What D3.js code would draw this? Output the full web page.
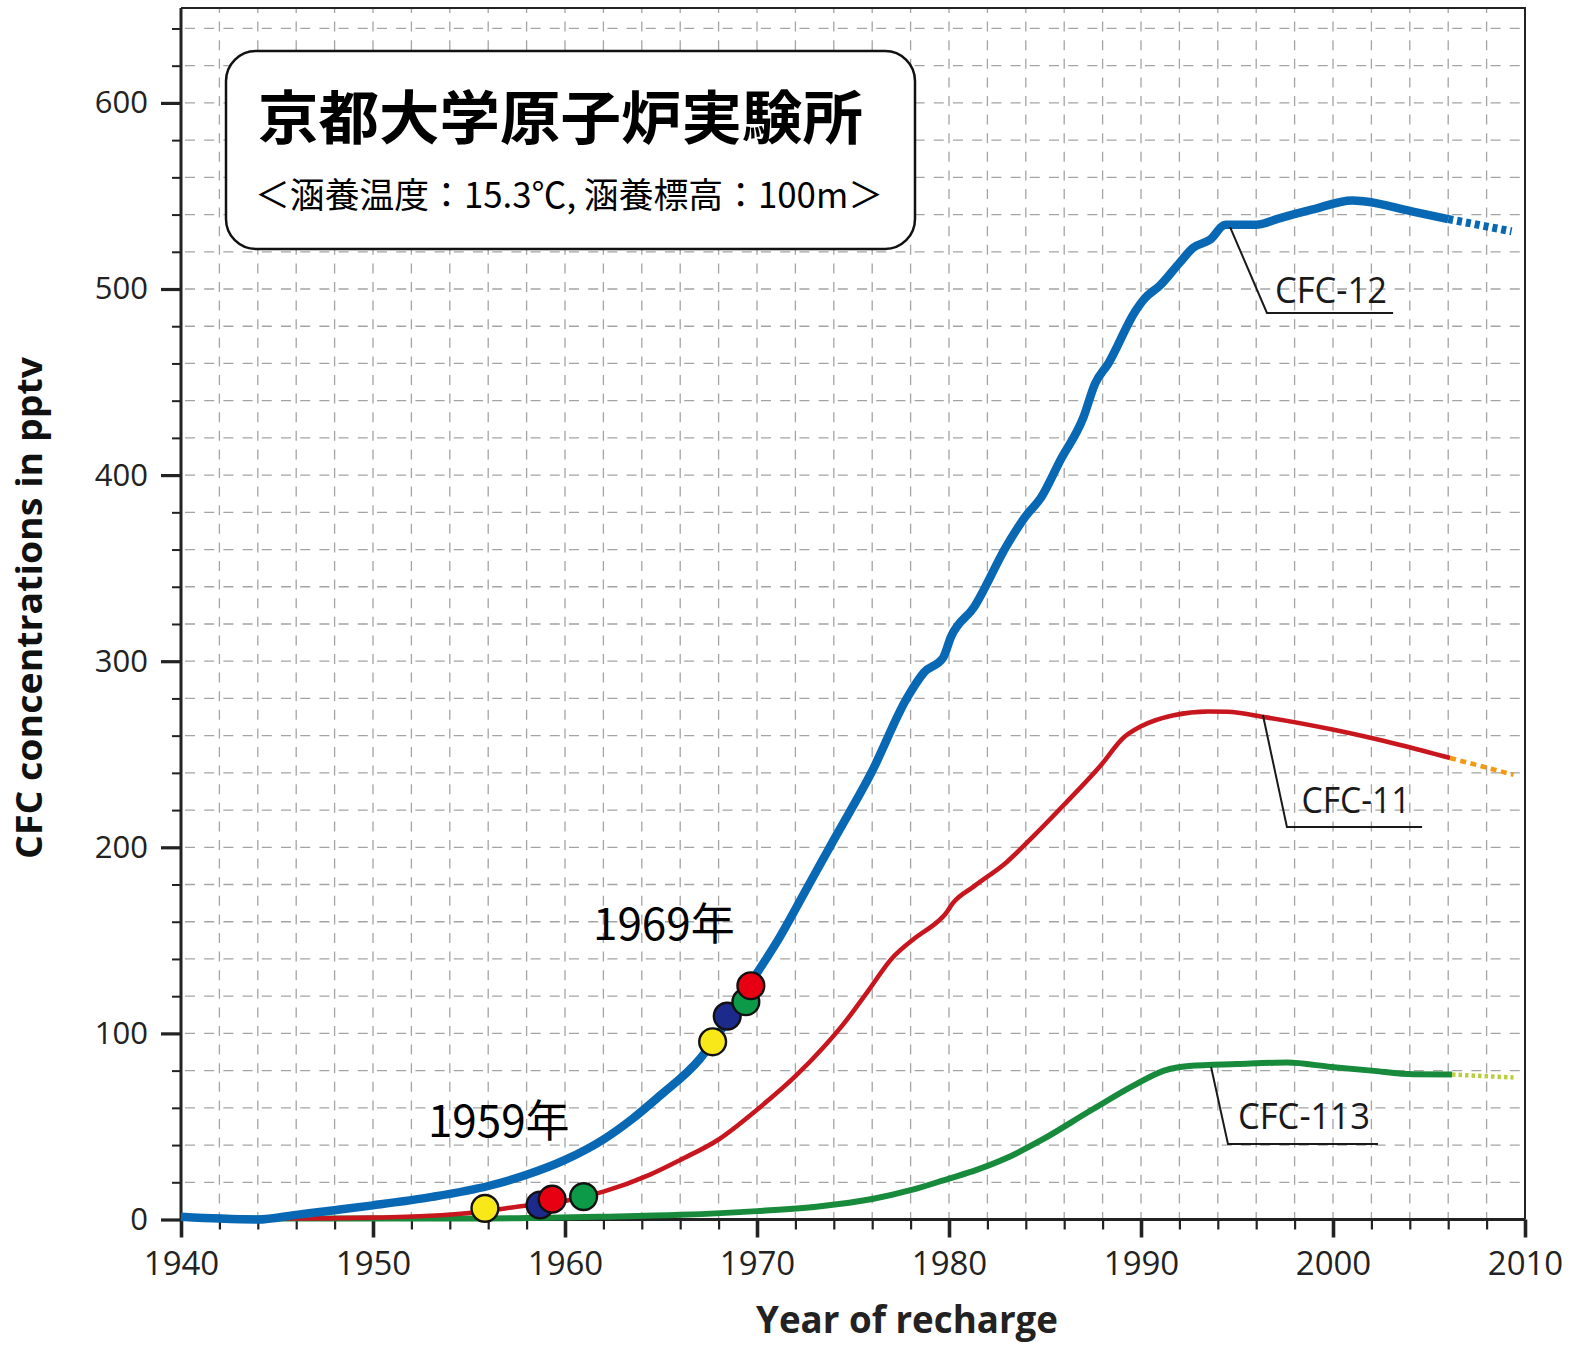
<!DOCTYPE html>
<html>
<head>
<meta charset="utf-8">
<script src="https://cdn.jsdelivr.net/npm/d3@7"></script>
<style>
  html, body { margin: 0; padding: 0; background: #fff; }
  svg { display: block; }
</style>
</head>
<body>
<svg id="chart" width="1576" height="1353"></svg>
<script>
// ---------- DATA ----------
const xTickYears = [1940, 1950, 1960, 1970, 1980, 1990, 2000, 2010];
const yTickValues = [0, 100, 200, 300, 400, 500, 600];

// CFC-12 (pptv)
const cfc12 = [
  [1940, 1.5], [1942, 0.5], [1944, 0], [1946, 2.5], [1948, 5], [1950, 7.6],
  [1953, 12], [1956, 18], [1958, 24], [1960, 32], [1962, 43], [1963.5, 54],
  [1965, 67], [1967, 86], [1968.4, 106], [1969.6, 126], [1971.2, 152],
  [1972.6, 178], [1974, 204], [1976, 241], [1977.8, 280], [1978.7, 294],
  [1979.7, 302], [1980.1, 313], [1981.3, 329], [1983, 362], [1984, 378],
  [1984.8, 388], [1985.8, 408], [1987, 431], [1987.6, 449], [1988.3, 460],
  [1989.7, 488], [1990.2, 495], [1991, 502], [1992, 514], [1992.7, 522],
  [1993.6, 526.5], [1994.4, 534.5], [1996, 534.5], [1997.2, 538], [1998.9, 542.6],
  [2001, 547.6], [2001.7, 547], [2004.1, 541.7], [2006, 537.6]
];
const cfc12Ext = [[2006, 537.6], [2009.3, 531]];

// CFC-11 (pptv)
const cfc11 = [
  [1940, 0.5], [1945, 0.5], [1950, 1], [1953, 2], [1955, 3.5], [1958, 7.5],
  [1960, 10], [1962, 15], [1964.4, 24], [1966, 32], [1968, 43], [1970, 59],
  [1972, 77], [1973.5, 93], [1974.5, 105], [1975.8, 123], [1977, 140],
  [1978.2, 151], [1979.4, 160], [1979.8, 164], [1980.2, 170], [1981.3, 179],
  [1983, 192], [1984.4, 206], [1986, 223], [1987.9, 244], [1989.1, 259],
  [1990, 265], [1991.7, 271], [1993.5, 273], [1994.5, 272.8], [1996.4, 270],
  [2000.1, 263], [2003.5, 255], [2006.1, 248]
];
const cfc11Ext = [[2006.1, 248], [2009.4, 239]];

// CFC-113 (pptv)
const cfc113 = [
  [1940, 1.5], [1945, 0.5], [1955, 0.5], [1962, 1.5], [1966, 2.5], [1970, 4.5],
  [1973.2, 7], [1976, 11], [1978.1, 16], [1980, 22], [1981.4, 26.5], [1983, 33],
  [1984.8, 42.6], [1987.4, 58.7], [1989.8, 73], [1991.2, 80], [1992.5, 82.5],
  [1995, 83.5], [1997.6, 84.3], [1999.9, 82], [2002, 80], [2004.2, 78], [2006.2, 77.9]
];
const cfc113Ext = [[2006.2, 77.9], [2009.4, 76.3]];

// Sample points (year, pptv, colour name)
const samples1959 = [
  [1955.83, 6.0, "yellow"], [1958.7, 7.8, "navy"], [1959.33, 10.9, "red"], [1960.97, 12.3, "green"]
];
const samples1969 = [
  [1967.69, 95.5, "yellow"], [1968.45, 109.3, "navy"], [1969.42, 117, "green"], [1969.68, 125.6, "red"]
];

// Series labels with leader lines (data units)
const seriesLabels = [
  { text: "CFC-12",  pts: [[1994.64, 533.3], [1996.56, 487.1], [2003.13, 487.1]], at: [1996.98, 492.5], len: 112 },
  { text: "CFC-11",  pts: [[1996.35, 271.1], [1997.6, 210.9], [2004.64, 210.9]], at: [1998.36, 218.6], len: 109 },
  { text: "CFC-113", pts: [[1993.65, 81.9], [1994.53, 40.6], [2002.34, 40.6]], at: [1995.05, 48.6], len: 132 }
];
const yearLabels = [
  { text: "1969年", at: [1961.46, 150.2] },
  { text: "1959年", at: [1952.86, 44.3] }
];

const titleText = "京都大学原子炉実験所";
const subtitleText = "＜涵養温度：15.3℃, 涵養標高：100m＞";
const xTitle = "Year of recharge";
const yTitle = "CFC concentrations in pptv";

// ---------- STYLE ----------
const colors = {
  cfc12: "#0868b4", cfc11: "#c8161e", cfc113: "#178a3c",
  ext12: "#0868b4", ext11: "#f39a12", ext113: "#b8d040",
  yellow: "#f8e81a", navy: "#1c2a8c", red: "#e60012", green: "#0c9a48"
};

// ---------- CHART ----------
(function draw() {
const svg = d3.select("#chart");
const pL = 181, pR = 1525, pT = 8, pB = 1219.5;
const x = d3.scaleLinear().domain([1940, 2010]).range([pL, pR]);
const y = d3.scaleLinear().domain([0, 651]).range([pB, pT]);

// grid
const gridG = svg.append("g").attr("stroke", "#a4a4a4").attr("stroke-width", 1.3);
const vYears = d3.range(1942, 2010, 2);
const hVals = d3.range(20, 651, 20);
gridG.selectAll("line.v").data(vYears).join("line").attr("class", "v")
  .attr("x1", d => x(d)).attr("x2", d => x(d))
  .attr("y1", pT).attr("y2", pB)
  .attr("stroke-dasharray", "10,8.6").attr("stroke-dashoffset", 5);
gridG.selectAll("line.h").data(hVals).join("line").attr("class", "h")
  .attr("x1", pL).attr("x2", pR)
  .attr("y1", d => y(d)).attr("y2", d => y(d))
  .attr("stroke-dasharray", "10,9.2").attr("stroke-dashoffset", -4);

// frame (top & right)
svg.append("path")
  .attr("d", `M${pL},${pT}H${pR}V${pB}`)
  .attr("fill", "none").attr("stroke", "#222").attr("stroke-width", 2);

// axes
const fontTick = "'Open Sans', 'Noto Sans', sans-serif";
const yMinor = d3.range(0, 651, 20).filter(v => v % 100 !== 0);
const xMinor = d3.range(1940, 2011, 2).filter(v => v % 10 !== 0);

const yMinorAx = svg.append("g").attr("transform", `translate(${pL},0)`)
  .call(d3.axisLeft(y).tickValues(yMinor).tickSize(9).tickFormat(""));
yMinorAx.select(".domain").remove();
yMinorAx.selectAll("line").attr("stroke", "#222").attr("stroke-width", 2);

const yMajorAx = svg.append("g").attr("transform", `translate(${pL},0)`)
  .call(d3.axisLeft(y).tickValues(yTickValues).tickSize(20).tickPadding(13).tickFormat(d3.format("d")));
yMajorAx.select(".domain").remove();
yMajorAx.selectAll("line").attr("stroke", "#222").attr("stroke-width", 3.2);
yMajorAx.selectAll("text").attr("font-family", fontTick).attr("font-size", 31).attr("fill", "#222");

const xMinorAx = svg.append("g").attr("transform", `translate(0,${pB})`)
  .call(d3.axisBottom(x).tickValues(xMinor).tickSize(10).tickFormat(""));
xMinorAx.select(".domain").remove();
xMinorAx.selectAll("line").attr("stroke", "#222").attr("stroke-width", 2.2);

const xMajorAx = svg.append("g").attr("transform", `translate(0,${pB})`)
  .call(d3.axisBottom(x).tickValues(xTickYears).tickSize(18).tickPadding(14).tickFormat(d3.format("d")));
xMajorAx.select(".domain").remove();
xMajorAx.selectAll("line").attr("stroke", "#222").attr("stroke-width", 3.6);
xMajorAx.selectAll("text").attr("font-family", fontTick).attr("font-size", 33).attr("fill", "#222");

// axis lines
svg.append("path").attr("d", `M${pL},${pT}V${pB}H${pR}`)
  .attr("fill", "none").attr("stroke", "#222").attr("stroke-width", 3);

// axis titles
svg.append("text").attr("x", 907).attr("y", 1333)
  .attr("text-anchor", "middle").attr("font-family", fontTick).attr("font-weight", 700)
  .attr("font-size", 38).attr("fill", "#222").attr("textLength", 302).attr("lengthAdjust", "spacingAndGlyphs")
  .text(xTitle);
svg.append("text").attr("transform", "translate(42,608) rotate(-90)")
  .attr("text-anchor", "middle").attr("font-family", fontTick).attr("font-weight", 700)
  .attr("font-size", 36).attr("fill", "#111").attr("textLength", 502).attr("lengthAdjust", "spacingAndGlyphs")
  .text(yTitle);

// lines
const line = d3.line().x(d => x(d[0])).y(d => y(d[1])).curve(d3.curveMonotoneX);
const linesG = svg.append("g").attr("fill", "none").attr("stroke-linejoin", "round");
linesG.append("path").datum(cfc113).attr("d", line).attr("stroke", colors.cfc113).attr("stroke-width", 6);
linesG.append("path").datum(cfc113Ext).attr("d", line).attr("stroke", colors.ext113).attr("stroke-width", 4.5).attr("stroke-dasharray", "3.5,3");
linesG.append("path").datum(cfc11).attr("d", line).attr("stroke", colors.cfc11).attr("stroke-width", 4.6);
linesG.append("path").datum(cfc11Ext).attr("d", line).attr("stroke", colors.ext11).attr("stroke-width", 4.6).attr("stroke-dasharray", "6,4.5");
linesG.append("path").datum(cfc12).attr("d", line).attr("stroke", colors.cfc12).attr("stroke-width", 8.5);
linesG.append("path").datum(cfc12Ext).attr("d", line).attr("stroke", colors.ext12).attr("stroke-width", 8).attr("stroke-dasharray", "5,4");

// sample markers
const markG = svg.append("g");
markG.selectAll("circle").data(samples1959.concat(samples1969)).join("circle")
  .attr("cx", d => x(d[0])).attr("cy", d => y(d[1])).attr("r", 13.4)
  .attr("fill", d => colors[d[2]]).attr("stroke", "#111").attr("stroke-width", 2.4);

// year labels
svg.selectAll("text.yl").data(yearLabels).join("text").attr("class", "yl")
  .attr("x", d => x(d.at[0])).attr("y", d => y(d.at[1]))
  .attr("font-family", "'Noto Sans CJK JP', sans-serif").attr("font-size", 44).attr("fill", "#000")
  .text(d => d.text);

// series labels with leader lines
const lblG = svg.append("g");
lblG.selectAll("path").data(seriesLabels).join("path")
  .attr("d", d => d3.line()(d.pts.map(p => [x(p[0]), y(p[1])])))
  .attr("fill", "none").attr("stroke", "#1a1a1a").attr("stroke-width", 2);
lblG.selectAll("text").data(seriesLabels).join("text")
  .attr("x", d => x(d.at[0])).attr("y", d => y(d.at[1]))
  .attr("font-family", fontTick).attr("font-size", 37).attr("fill", "#1a1a1a")
  .attr("textLength", d => d.len).attr("lengthAdjust", "spacingAndGlyphs")
  .text(d => d.text);

// title box
const box = svg.append("g");
box.append("rect").attr("x", 226).attr("y", 51).attr("width", 689).attr("height", 198)
  .attr("rx", 30).attr("ry", 30).attr("fill", "#fff").attr("stroke", "#111").attr("stroke-width", 2.5);
box.append("text").attr("x", 258).attr("y", 139)
  .attr("font-family", "'Noto Sans CJK JP', sans-serif").attr("font-weight", 700)
  .attr("font-size", 58).attr("fill", "#000").attr("textLength", 605).attr("lengthAdjust", "spacingAndGlyphs")
  .text(titleText);
box.append("text").attr("x", 255).attr("y", 208)
  .attr("font-family", "'Noto Sans CJK JP', sans-serif").attr("font-weight", 400)
  .attr("font-size", 35).attr("fill", "#000").attr("textLength", 628).attr("lengthAdjust", "spacingAndGlyphs")
  .text(subtitleText);
})();
</script>
</body>
</html>
